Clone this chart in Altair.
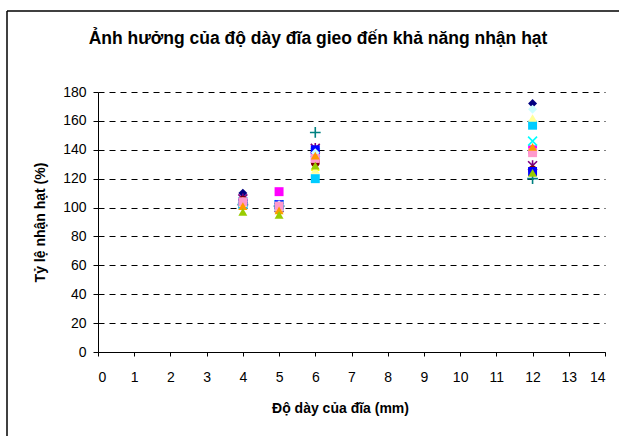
import altair as alt
import pandas as pd

x_values = [4, 5, 6, 12]
series_names = ["S1", "S2", "S3", "S4", "S5", "S6", "S7", "S8", "S9", "S10", "S11", "S12", "S13", "S14"]
series_values = [
    [110, 101, 139, 172],
    [104, 111, 135, 140],
    [101, 99, 128, 125],
    [104, 102, 138, 146],
    [106, 100, 141, 129],
    [105, 100, 131, 126],
    [102, 101, 152, 120],
    [103, 102, 140, 125],
    [102, 101, 120, 157],
    [104, 102, 138, 168],
    [103, 100, 126, 162],
    [104, 101, 134, 138],
    [101, 98, 136, 142],
    [97, 95, 129, 124],
]
colors = ["#000080", "#FF00FF", "#FFFF00", "#00FFFF", "#800080", "#800000", "#008080",
          "#0000FF", "#00CCFF", "#CCFFFF", "#FFFF99", "#FF99CC", "#FF9900", "#99CC00"]
X_PATH = "M-1,-1L1,1M-1,1L1,-1"
STAR_PATH = "M-1,-1L1,1M-1,1L1,-1M0,-1.2L0,1.2"
PLUS_PATH = "M-1.2,0L1.2,0M0,-1.2L0,1.2"
shapes = ["diamond", "square", "triangle-up", X_PATH, STAR_PATH, "circle", PLUS_PATH,
          "square", "square", "diamond", "triangle-up", "square", "triangle-up", "triangle-up"]
stroked_only = [False, False, False, True, True, False, True,
                False, False, False, False, False, False, False]
chart_title = "Ảnh hưởng của độ dày đĩa gieo đến khả năng nhận hạt"

rows = []
for i, (name, vals) in enumerate(zip(series_names, series_values)):
    for xv, yv in zip(x_values, vals):
        rows.append({"series": name, "order": i, "x": xv, "y": yv})
df = pd.DataFrame(rows)

fills = ["transparent" if s else c for s, c in zip(stroked_only, colors)]
strokes = [c if s else "transparent" for s, c in zip(stroked_only, colors)]

FONT = "Liberation Sans"

points = alt.Chart(df).mark_point(filled=True, opacity=1, strokeWidth=1.6, size=80).encode(
    x=alt.X("x:Q", scale=alt.Scale(domain=[0, 14], nice=False),
            axis=alt.Axis(values=list(range(0, 15)), title="Độ dày của đĩa (mm)",
                          grid=False, tickSize=4, labelPadding=14, titlePadding=17,
                          titleX=242)),
    y=alt.Y("y:Q", scale=alt.Scale(domain=[0, 180], nice=False),
            axis=alt.Axis(values=list(range(0, 181, 20)), title="Tỷ lệ nhận hạt (%)",
                          grid=True, gridDash=[6, 5], gridColor="black", gridWidth=1,
                          gridOpacity=1, tickSize=5, labelPadding=7, titlePadding=15)),
    shape=alt.Shape("series:N", scale=alt.Scale(domain=series_names, range=shapes), legend=None),
    fill=alt.Fill("series:N", scale=alt.Scale(domain=series_names, range=fills), legend=None),
    stroke=alt.Stroke("series:N", scale=alt.Scale(domain=series_names, range=strokes), legend=None),
    order=alt.Order("order:Q"),
)

frame_df = pd.DataFrame({"k": [0]})
left_border = alt.Chart(frame_df).mark_rule(color="black", strokeWidth=1.5, clip=False).encode(
    x=alt.value(-91), y=alt.value(-81), y2=alt.value(360))
top_border = alt.Chart(frame_df).mark_rule(color="black", strokeWidth=1.5, clip=False).encode(
    x=alt.value(-91), x2=alt.value(540), y=alt.value(-81))
title_mark = alt.Chart(pd.DataFrame({"t": [chart_title]})).mark_text(
    font=FONT, fontSize=17.5, fontWeight="bold", color="black",
    align="center", baseline="middle", clip=False).encode(
    x=alt.value(220), y=alt.value(-53), text="t:N")

chart = alt.layer(points, left_border, top_border, title_mark).properties(
    width=507, height=260,
    background="white",
    autosize=alt.AutoSizeParams(type="none"),
    padding={"left": 98, "top": 92, "right": 14, "bottom": 84},
).configure_view(stroke=None).configure_axis(
    domainColor="black", tickColor="black", labelColor="black", titleColor="black",
    labelFont=FONT, titleFont=FONT, labelFontSize=14, titleFontSize=14,
    titleFontWeight="bold", domainWidth=1, tickWidth=1,
)

chart.save("out.html", embed_options={"renderer": "svg", "actions": False})
